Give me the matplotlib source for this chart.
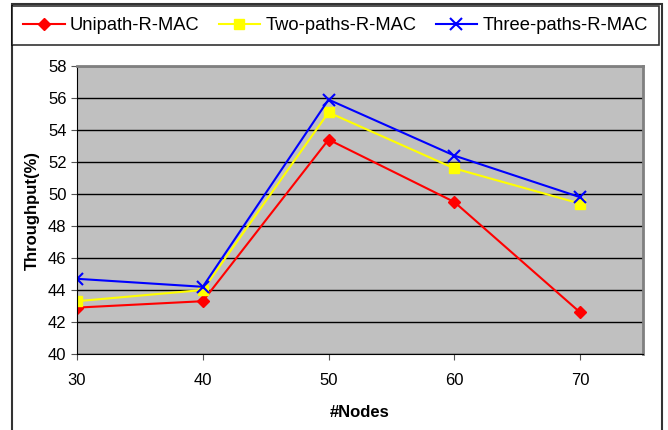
import matplotlib.pyplot as plt
from matplotlib.patches import Rectangle

nodes = [30, 40, 50, 60, 70]
unipath = [42.9, 43.3, 53.4, 49.5, 42.6]
two_paths = [43.3, 44.0, 55.1, 51.6, 49.4]
three_paths = [44.7, 44.2, 55.9, 52.4, 49.8]

plt.rcParams['font.family'] = ['Liberation Sans', 'DejaVu Sans']

fig = plt.figure(figsize=(6.68, 4.30), dpi=100)
ax = fig.add_axes([77/668, 76/430, 566/668, 288/430])
ax.set_facecolor('#C0C0C0')

ax.plot(nodes, unipath, color='red', marker='D', markersize=6, lw=1.5, label='Unipath-R-MAC')
ax.plot(nodes, two_paths, color='yellow', marker='s', markersize=7, lw=1.5, label='Two-paths-R-MAC')
ax.plot(nodes, three_paths, color='blue', marker='x', markersize=8, mew=1.5, lw=1.5, label='Three-paths-R-MAC')

ax.set_xlim(30, 75)
ax.set_ylim(40, 58)
ax.set_xticks(nodes)
ax.set_yticks(range(40, 59, 2))
ax.yaxis.grid(True, color='black', lw=1)
ax.set_axisbelow(True)
ax.tick_params(labelsize=12, length=4, color='#555555')
ax.tick_params(axis='x', pad=10)
for s in ['top', 'right']:
    ax.spines[s].set_color('#808080')
    ax.spines[s].set_linewidth(2)
for s in ['left', 'bottom']:
    ax.spines[s].set_color('black')

ax.set_xlabel('#Nodes', fontsize=12, fontweight='bold', labelpad=12)
ax.set_ylabel('Throughput(%)', fontsize=12, fontweight='bold', labelpad=6)

# outer chart frame
fig.patches.append(Rectangle((12/668, -0.01), 650/668, 1.0, transform=fig.transFigure,
                             fill=False, edgecolor='#333333', lw=1.5))

leg = fig.legend(loc='upper left', bbox_to_anchor=(12/668, 1 - 6/430), ncol=3,
                 fontsize=13.2, frameon=True, fancybox=False, edgecolor='black',
                 handlelength=2.27, handletextpad=0.28, columnspacing=1.05,
                 borderpad=0.6, borderaxespad=0)
leg.get_frame().set_linewidth(1.2)

fig.savefig('out.png', dpi=100)
